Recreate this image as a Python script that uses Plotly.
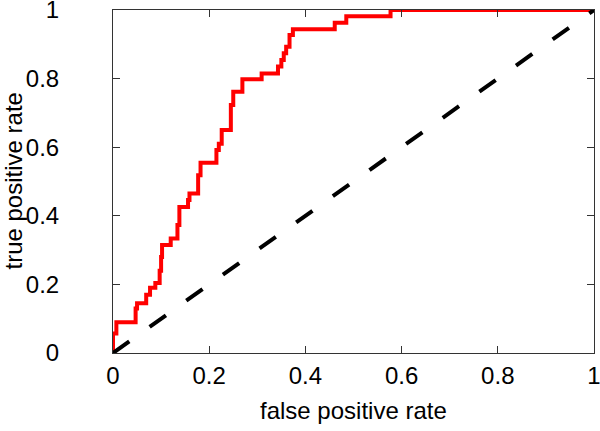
import plotly.graph_objects as go

# ROC curve vertices (step up at each fpr)
fpr = [0.0, 0.0, 0.007, 0.047, 0.050, 0.069, 0.077, 0.088, 0.097, 0.100, 0.102,
       0.120, 0.134, 0.138, 0.156, 0.159, 0.177, 0.182, 0.215, 0.220, 0.226,
       0.245, 0.250, 0.269, 0.309, 0.343, 0.350, 0.355, 0.360, 0.367, 0.374,
       0.461, 0.485, 0.577, 1.0]
tpr = [0.0, 0.057, 0.090, 0.130, 0.145, 0.170, 0.190, 0.204, 0.240, 0.280, 0.315,
       0.334, 0.373, 0.426, 0.446, 0.465, 0.518, 0.555, 0.592, 0.610, 0.650,
       0.723, 0.762, 0.798, 0.815, 0.835, 0.854, 0.874, 0.893, 0.927, 0.944,
       0.963, 0.982, 1.0, 1.0]

diag_x = [0, 1]
diag_y = [0, 1]

tick_vals = [0, 0.2, 0.4, 0.6, 0.8, 1]
tick_text = ["0", "0.2", "0.4", "0.6", "0.8", "1"]

fig = go.Figure()
fig.add_trace(go.Scatter(x=fpr, y=tpr, mode="lines", line_shape="hv",
                         line=dict(color="#ff0000", width=4), showlegend=False))
fig.add_trace(go.Scatter(x=diag_x, y=diag_y, mode="lines",
                         line=dict(color="black", width=4, dash="20px,25px"),
                         showlegend=False))

font = dict(family="Liberation Sans, Arial, Helvetica, sans-serif", size=24, color="black")
axis_common = dict(range=[0, 1], tickvals=tick_vals, ticktext=tick_text,
                   ticks="inside", ticklen=7, tickcolor="#333333", tickwidth=1,
                   showline=True, linecolor="#333333", linewidth=1, mirror="ticks",
                   showgrid=False, zeroline=False, tickfont=font,
                   ticklabeloverflow="allow", automargin=False)

fig.update_layout(
    width=600, height=431,
    margin=dict(l=113, r=6, t=10, b=78),
    paper_bgcolor="white", plot_bgcolor="white",
    font=font,
    xaxis=dict(**axis_common, ticklabelstandoff=1),
    yaxis=dict(**axis_common, ticklabelstandoff=48),
    annotations=[
        dict(text="false positive rate", xref="paper", yref="paper", x=0.5, y=0,
             xanchor="center", yanchor="middle", yshift=-57, showarrow=False, font=font),
        dict(text="true positive rate", xref="paper", yref="paper", x=0, y=0.5,
             xanchor="center", yanchor="middle", xshift=-100, textangle=-90,
             showarrow=False, font=font),
    ],
)

fig.write_html("out.html", config={"displayModeBar": False},
               post_script="document.body.style.margin='0';")
